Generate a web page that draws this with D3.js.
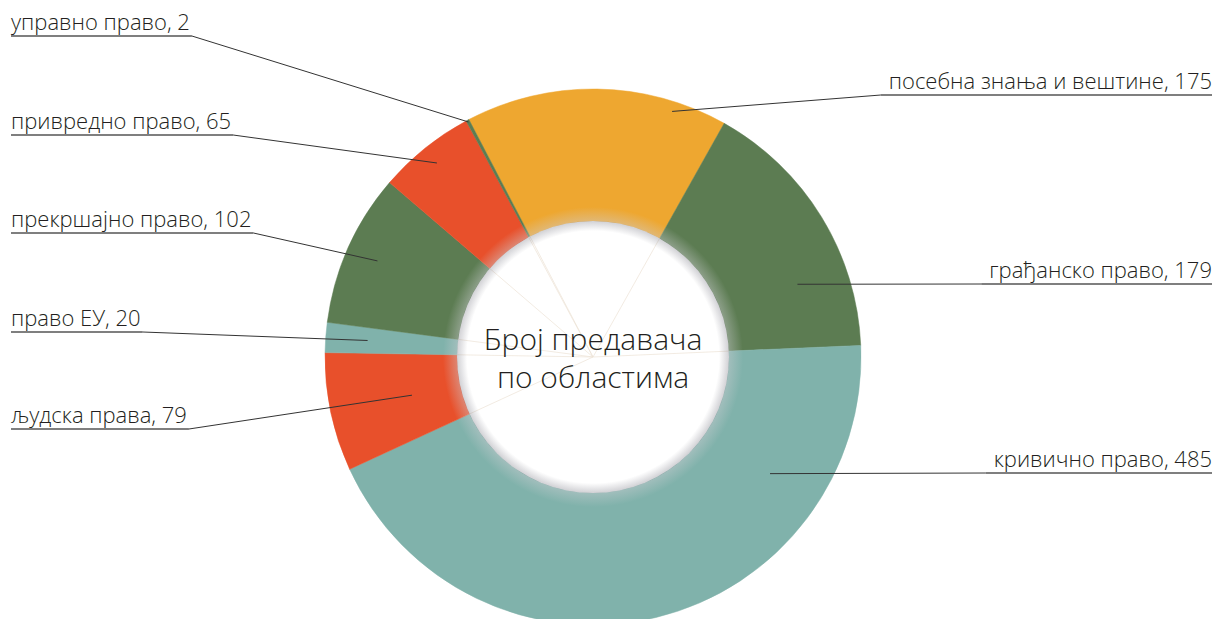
<!DOCTYPE html>
<html>
<head>
<meta charset="utf-8">
<script src="https://cdn.jsdelivr.net/npm/d3@7"></script>
<style>
  body { margin: 0; background: #fff; }
  text { font-family: "Open Sans", "Noto Sans", sans-serif; font-weight: 300; fill: #231f20; }
</style>
</head>
<body>
<div id="chart"></div>
<script>
// data
var categories = ["посебна знања и вештине", "грађанско право", "кривично право", "људска права",
                  "право ЕУ", "прекршајно право", "привредно право", "управно право"];
var values = [175, 179, 485, 79, 20, 102, 65, 2];
var title = ["Број предавача", "по областима"];

// styles / layout
var colors = ["#eea730", "#5c7c52", "#80b2ab", "#e8502b", "#80b2ab", "#5c7c52", "#e8502b", "#5c7c52"];
// label side, underline y, anchor radius, anchor angle offset from slice middle (deg)
var labelLayout = [
  {side: "right", y: 95,  r: 258, off: 17},
  {side: "right", y: 284, r: 217, off: 12},
  {side: "right", y: 473, r: 212, off: -43},
  {side: "left",  y: 429, r: 185, off: 0},
  {side: "left",  y: 332, r: 226, off: 0},
  {side: "left",  y: 233, r: 236, off: 0},
  {side: "left",  y: 135, r: 249, off: 0},
  {side: "left",  y: 36,  r: 266, off: 0}
];

var width = 1224, height = 619;
var cx = 593, cy = 357;
var outerR = 268, innerR = 136;
var startA = -27.6 * Math.PI / 180;

var svg = d3.select("#chart")
  .append("svg")
    .attr("width", width)
    .attr("height", height);

var defs = svg.append("defs");
var grad = defs.append("radialGradient")
    .attr("id", "holeShade")
    .attr("gradientUnits", "userSpaceOnUse")
    .attr("cx", 0).attr("cy", 0).attr("r", 156);
[[0, "#6e6e7a", 0], [126 / 156, "#6e6e7a", 0], [135.5 / 156, "#6e6e7a", 0.3],
 [136.5 / 156, "#cfcfd4", 0.4], [150 / 156, "#cfcfd4", 0], [1, "#cfcfd4", 0]]
  .forEach(function(s) {
    grad.append("stop").attr("offset", s[0]).attr("stop-color", s[1]).attr("stop-opacity", s[2]);
  });

var data = categories.map(function(c, i) { return {name: c, value: values[i], i: i}; });

var pie = d3.pie()
  .sort(null)
  .value(function(d) { return d.value; })
  .startAngle(startA)
  .endAngle(startA + 2 * Math.PI);

var arcs = pie(data);

var arc = d3.arc().innerRadius(innerR - 2).outerRadius(outerR);

var g = svg.append("g").attr("transform", "translate(" + cx + "," + cy + ")");

g.selectAll("path.slice")
  .data(arcs)
  .enter()
  .append("path")
    .attr("class", "slice")
    .attr("d", arc)
    .attr("fill", function(d) { return colors[d.data.i]; })
    .attr("stroke", function(d) { return colors[d.data.i]; })
    .attr("stroke-width", 0.5);

// white hole
g.append("circle").attr("r", innerR).attr("fill", "#fff");

// faint seams from the centre
g.selectAll("line.seam")
  .data(arcs)
  .enter()
  .append("line")
    .attr("class", "seam")
    .attr("x1", 0).attr("y1", 0)
    .attr("x2", function(d) { return Math.sin(d.startAngle) * innerR; })
    .attr("y2", function(d) { return -Math.cos(d.startAngle) * innerR; })
    .attr("stroke", "#ece2d6")
    .attr("stroke-width", 0.7);

g.append("circle").attr("r", 156).attr("fill", "url(#holeShade)");

// title
g.selectAll("text.title")
  .data(title)
  .enter()
  .append("text")
    .attr("class", "title")
    .attr("text-anchor", "middle")
    .attr("y", function(d, i) { return -7 + i * 38; })
    .style("font-size", "30px")
    .text(function(d) { return d; });

// labels with leader lines
var labels = svg.append("g");
arcs.forEach(function(d) {
  var L = labelLayout[d.data.i];
  var a = (d.startAngle + d.endAngle) / 2 + L.off * Math.PI / 180;
  var ax = cx + Math.sin(a) * L.r, ay = cy - Math.cos(a) * L.r;
  var t = labels.append("text")
    .attr("x", L.side === "left" ? 11 : 1212)
    .attr("y", L.y - 6)
    .attr("text-anchor", L.side === "left" ? "start" : "end")
    .style("font-size", "22px")
    .text(d.data.name + ", " + d.data.value);
  var w = t.node().getComputedTextLength();
  var x0 = L.side === "left" ? 11 : 1212;
  var x1 = L.side === "left" ? 11 + w + 2 : 1212 - w - 8;
  labels.append("line")
    .attr("x1", x0).attr("y1", L.y).attr("x2", x1).attr("y2", L.y)
    .attr("stroke", "#555").attr("stroke-width", 1.3);
  labels.append("line")
    .attr("x1", x1).attr("y1", L.y).attr("x2", ax).attr("y2", ay)
    .attr("stroke", "#333").attr("stroke-width", 1);
});
</script>
</body>
</html>
